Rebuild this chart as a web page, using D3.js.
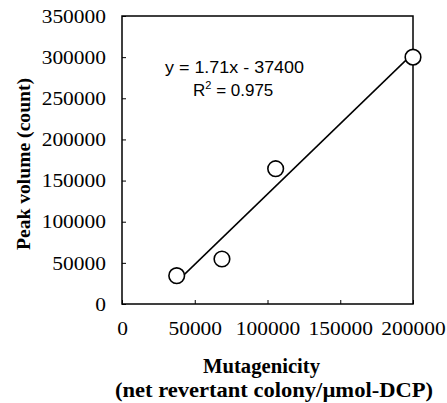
<!DOCTYPE html>
<html><head><meta charset="utf-8">
<script src="https://cdn.jsdelivr.net/npm/d3@7"></script>
<style>body{margin:0;background:#fff}svg{display:block}</style>
</head><body>
<script>
const xValues = [37600, 68700, 105600, 200000];
const yValues = [34400, 54700, 164400, 300000];
const xTicks = [0, 50000, 100000, 150000, 200000];
const yTicks = [0, 50000, 100000, 150000, 200000, 250000, 300000, 350000];
const slope = 1.71, intercept = -37400;
const eqText = "y = 1.71x - 37400";
const r2Value = "0.975";
const xTitle = ["Mutagenicity", "(net revertant colony/\u00b5mol-DCP)"];
const yTitle = "Peak volume (count)";

const W = 447, H = 403;
const m = {l:122, t:16, r:34, b:99};
const svg = d3.select("body").append("svg").attr("width", W).attr("height", H);
const x = d3.scaleLinear().domain([0, 200000]).range([m.l, W - m.r]);
const y = d3.scaleLinear().domain([0, 350000]).range([H - m.b, m.t]);

const SERIF = "Liberation Serif";
const SANS = "Liberation Sans";
const stretch = sel => sel.each(function () {
  const w = this.getComputedTextLength();
  d3.select(this).attr("textLength", w * 1.1).attr("lengthAdjust", "spacingAndGlyphs");
});

// frame
svg.append("rect").attr("x", x(0)).attr("y", y(350000))
  .attr("width", x(200000) - x(0)).attr("height", y(0) - y(350000))
  .attr("fill", "none").attr("stroke", "#000").attr("stroke-width", 1.5);

// y axis
const ya = svg.append("g").attr("transform", `translate(${x(0)},0)`)
  .call(d3.axisLeft(y).tickValues(yTicks).tickSizeInner(-4).tickSizeOuter(0).tickPadding(16).tickFormat(d3.format("d")));
ya.attr("font-family", null);
ya.select(".domain").remove();
ya.selectAll("line").attr("stroke", "#000").attr("stroke-width", 1);
ya.selectAll("text").style("font-family", SERIF).attr("font-size", 19.5).attr("fill", "#000").call(stretch);

// x axis
const xa = svg.append("g").attr("transform", `translate(0,${y(0)})`)
  .call(d3.axisBottom(x).tickValues(xTicks).tickSizeInner(-4).tickSizeOuter(0).tickPadding(17).tickFormat(d3.format("d")));
xa.attr("font-family", null);
xa.select(".domain").remove();
xa.selectAll("line").attr("stroke", "#000").attr("stroke-width", 1);
xa.selectAll("text").style("font-family", SERIF).attr("font-size", 19.5).attr("fill", "#000").call(stretch);

// regression line
const x0 = d3.min(xValues), x1 = d3.max(xValues);
svg.append("line")
  .attr("x1", x(x0)).attr("y1", y(slope * x0 + intercept))
  .attr("x2", x(x1)).attr("y2", y(slope * x1 + intercept))
  .attr("stroke", "#000").attr("stroke-width", 1.5);

// points
svg.selectAll("circle.pt").data(xValues.map((v, i) => [v, yValues[i]])).enter()
  .append("circle").attr("class", "pt")
  .attr("cx", d => x(d[0])).attr("cy", d => y(d[1])).attr("r", 7.8)
  .attr("fill", "#fff").attr("stroke", "#000").attr("stroke-width", 1.6);

// equation
svg.append("text").attr("x", 165).attr("y", 73).style("font-family", SANS)
  .attr("font-size", 17).attr("textLength", 139).attr("lengthAdjust", "spacingAndGlyphs")
  .attr("fill", "#000").text(eqText);
const r2 = svg.append("text").attr("x", 193).attr("y", 96).style("font-family", SANS)
  .attr("font-size", 17).attr("fill", "#000");
r2.append("tspan").text("R");
r2.append("tspan").attr("dy", -7).attr("font-size", 11).text("2");
r2.append("tspan").attr("dy", 7).text(" = " + r2Value);

// x title
svg.append("text").attr("x", 203).attr("y", 373)
  .style("font-family", SERIF).attr("font-weight", "bold").attr("font-size", 20)
  .attr("textLength", 117).attr("lengthAdjust", "spacingAndGlyphs").attr("fill", "#000").text(xTitle[0]);
svg.append("text").attr("x", 115).attr("y", 397)
  .style("font-family", SERIF).attr("font-weight", "bold").attr("font-size", 20)
  .attr("textLength", 318).attr("lengthAdjust", "spacingAndGlyphs").attr("fill", "#000").text(xTitle[1]);

// y title
svg.append("text").attr("transform", `translate(30,250) rotate(-90)`)
  .style("font-family", SERIF).attr("font-weight", "bold").attr("font-size", 19)
  .attr("textLength", 172).attr("lengthAdjust", "spacingAndGlyphs").attr("fill", "#000").text(yTitle);
</script>
</body></html>
